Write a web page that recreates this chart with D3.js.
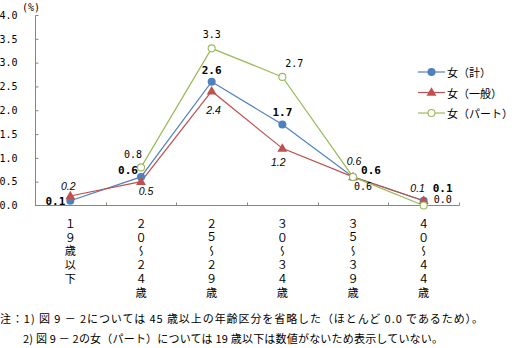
<!DOCTYPE html>
<html><head><meta charset="utf-8">
<script src="https://cdn.jsdelivr.net/npm/d3@7"></script>
<style>
html,body{margin:0;padding:0;background:#fff;}
svg{display:block;}
</style></head>
<body>
<script>
const categories = ["19歳以下","20～24歳","25～29歳","30～34歳","35～39歳","40～44歳"];
const seriesNames = ["女（計）","女（一般）","女（パート）"];
const totalVals = [0.1, 0.6, 2.6, 1.7, 0.6, 0.1];
const generalVals = [0.2, 0.5, 2.4, 1.2, 0.6, 0.1];
const partVals = [null, 0.8, 3.3, 2.7, 0.6, 0.0];
const yTicks = [0, 0.5, 1.0, 1.5, 2.0, 2.5, 3.0, 3.5, 4.0];
const yUnit = "(%)";
const notes = [
  "注：1) 図 9 － 2については 45 歳以上の年齢区分を省略した（ほとんど 0.0 であるため）。",
  "2) 図 9 － 2の女（パート）については 19 歳以下は数値がないため表示していない。"
];

// label offsets (style)
const offTotal = [[-15,1],[-13,-6],[0,-11],[0,-12.5],[18,-6],[19,-12.5]];
const offGeneral = [[-2,-10],[5,9],[2,19],[-4,14],[1,-16],[-6,-13]];
const offPart = [[0,0],[-8,-13],[0,-14],[12,-13],[10,10],[19,-6]];

const W = 512, H = 348;
const svg = d3.select("body").append("svg").attr("width", W).attr("height", H);
const x = d3.scaleBand().domain(categories).range([35, 459]).padding(0);
const y = d3.scaleLinear().domain([0, 4]).range([205.5, 15]);
const axisColor = "#868686";
const numFont = "'DejaVu Sans Mono', 'Liberation Mono', monospace";
const jpFont = "'Noto Sans CJK JP', sans-serif";

// Y axis
const yAxis = d3.axisLeft(y).tickValues(yTicks).tickSize(-3).tickPadding(0).tickFormat(d3.format(".1f"));
const gy = svg.append("g").attr("transform", "translate(35.5,0)").call(yAxis);
gy.select(".domain").attr("stroke", axisColor).attr("d", `M3,${y(4)+0.5}H0V${y(0)}`);
gy.selectAll(".tick line").attr("stroke", axisColor);
gy.selectAll(".tick text").attr("x", -18).attr("text-anchor", "end").attr("fill", "#000")
  .style("font-family", numFont).style("font-size", "10px");
gy.selectAll(".tick").filter(d => d === 0).select("line").remove();
gy.selectAll(".tick").filter(d => d === 4).select("line").remove();

svg.append("text").attr("x", 31).attr("y", 7).attr("text-anchor", "middle")
  .attr("dominant-baseline", "central").style("font-family", numFont).style("font-size", "10px").text(yUnit);

// X axis
const gx = svg.append("g").attr("transform", `translate(0,${y(0)})`);
gx.append("line").attr("x1", 35).attr("x2", 459.5).attr("stroke", axisColor);
const bounds = categories.map(c => x(c)).concat([x(categories[categories.length-1]) + x.bandwidth()]);
gx.selectAll("line.tk").data(bounds.slice(1)).enter().append("line").attr("class","tk")
  .attr("x1", d => Math.round(d)+0.5).attr("x2", d => Math.round(d)+0.5).attr("y1", 0).attr("y2", -3).attr("stroke", axisColor);

// X labels, vertical writing
const fw = s => s.replace(/[0-9]/g, ch => String.fromCharCode(ch.charCodeAt(0) + 0xFEE0));
categories.forEach(c => {
  const cx = x(c) + x.bandwidth()/2;
  svg.append("text").attr("x", cx).attr("y", 218)
    .style("writing-mode", "vertical-rl").style("text-orientation", "upright")
    .style("letter-spacing", "2.6px")
    .style("font-family", jpFont).style("font-size", "11.2px").text(fw(c));
});

// Series
const series = [
  {name: seriesNames[0], vals: totalVals, color: "#4F81BD", marker: "circle", off: offTotal, font: numFont, weight: "bold", style: "normal", size: "11px"},
  {name: seriesNames[1], vals: generalVals, color: "#C0504D", marker: "triangle", off: offGeneral, font: "'Liberation Sans', Arial, sans-serif", weight: "normal", style: "italic", size: "10.5px"},
  {name: seriesNames[2], vals: partVals, color: "#9BBB59", marker: "hollow", off: offPart, font: numFont, weight: "normal", style: "normal", size: "10px"}
];

const line = d3.line().defined(d => d.v !== null).x(d => x(d.c) + x.bandwidth()/2).y(d => y(d.v));

function drawMarker(g, type, color, px, py) {
  if (type === "circle") {
    g.append("circle").attr("cx", px).attr("cy", py).attr("r", 4).attr("fill", color);
  } else if (type === "triangle") {
    g.append("path").attr("d", d3.symbol().type(d3.symbolTriangle).size(42)())
      .attr("transform", `translate(${px},${py+0.5})`).attr("fill", color);
  } else {
    g.append("circle").attr("cx", px).attr("cy", py).attr("r", 3.5).attr("fill", "#fff").attr("stroke", color).attr("stroke-width", 1.1);
  }
}

series.forEach(s => {
  const pts = categories.map((c, i) => ({c, v: s.vals[i]}));
  svg.append("path").datum(pts).attr("d", line).attr("fill", "none").attr("stroke", s.color).attr("stroke-width", 1.2);
});
series.forEach(s => {
  const g = svg.append("g");
  categories.forEach((c, i) => {
    const v = s.vals[i];
    if (v === null) return;
    drawMarker(g, s.marker, s.color, x(c) + x.bandwidth()/2, y(v));
  });
});
series.forEach(s => {
  categories.forEach((c, i) => {
    const v = s.vals[i];
    if (v === null) return;
    svg.append("text").attr("x", x(c) + x.bandwidth()/2 + s.off[i][0]).attr("y", y(v) + s.off[i][1])
      .attr("text-anchor", "middle").attr("dominant-baseline", "central")
      .style("font-family", s.font).style("font-weight", s.weight).style("font-style", s.style).style("font-size", s.size)
      .text(d3.format(".1f")(v));
  });
});

// Legend
series.forEach((s, i) => {
  const ly = 72 + i * 20.5;
  const g = svg.append("g");
  g.append("line").attr("x1", 418).attr("x2", 445).attr("y1", ly).attr("y2", ly).attr("stroke", s.color).attr("stroke-width", 1.2);
  drawMarker(g, s.marker, s.color, 431.5, ly);
  g.append("text").attr("x", 447).attr("y", ly).attr("dominant-baseline", "central")
    .style("font-family", jpFont).style("font-size", "11px").text(s.name);
});

// Notes
svg.append("text").attr("x", 0).attr("y", 318).attr("dominant-baseline", "central")
  .attr("textLength", 483).attr("lengthAdjust", "spacing")
  .style("font-family", jpFont).style("font-size", "11px").text(notes[0]);
svg.append("text").attr("x", 23).attr("y", 337.5).attr("dominant-baseline", "central")
  .attr("textLength", 420).attr("lengthAdjust", "spacing")
  .style("font-family", jpFont).style("font-size", "11px").text(notes[1]);
</script>
</body></html>
